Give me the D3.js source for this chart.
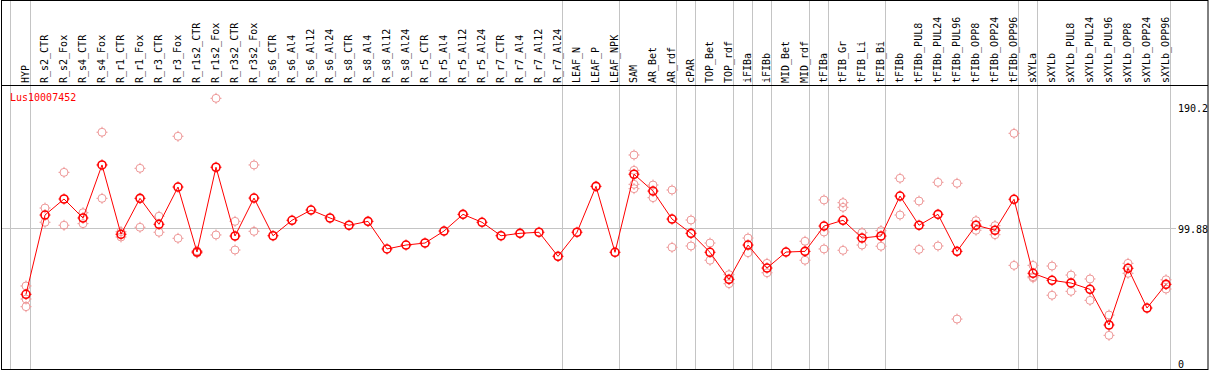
<!DOCTYPE html>
<html>
<head>
<meta charset="utf-8">
<script src="https://cdn.jsdelivr.net/npm/d3@7"></script>
<style>
    body { margin: 0; background: #fff; }
    svg { display: block; }
    text { font-family: "DejaVu Sans Mono", monospace; font-size: 10px; }
</style>
</head>
<body>
<div id="chart"></div>
<script>
// Chart data
const geneName = 'Lus10007452';

const samples = [
    'HYP', 'R_s2_CTR', 'R_s2_Fox', 'R_s4_CTR', 'R_s4_Fox', 'R_r1_CTR', 'R_r1_Fox', 'R_r3_CTR', 'R_r3_Fox',
    'R_r1s2_CTR', 'R_r1s2_Fox', 'R_r3s2_CTR', 'R_r3s2_Fox', 'R_s6_CTR', 'R_s6_Al4', 'R_s6_Al12', 'R_s6_Al24',
    'R_s8_CTR', 'R_s8_Al4', 'R_s8_Al12', 'R_s8_Al24', 'R_r5_CTR', 'R_r5_Al4', 'R_r5_Al12', 'R_r5_Al24',
    'R_r7_CTR', 'R_r7_Al4', 'R_r7_Al12', 'R_r7_Al24', 'LEAF_N', 'LEAF_P', 'LEAF_NPK', 'SAM', 'AR_Bet', 'AR_rdf',
    'cPAR', 'TOP_Bet', 'TOP_rdf', 'iFIBa', 'iFIBb', 'MID_Bet', 'MID_rdf', 'tFIBa', 'tFIB_Gr', 'tFIB_Li', 'tFIB_Bi',
    'tFIBb', 'tFIBb_PUL8', 'tFIBb_PUL24', 'tFIBb_PUL96', 'tFIBb_OPP8', 'tFIBb_OPP24', 'tFIBb_OPP96',
    'sXYLa', 'sXYLb', 'sXYLb_PUL8', 'sXYLb_PUL24', 'sXYLb_PUL96', 'sXYLb_OPP8', 'sXYLb_OPP24', 'sXYLb_OPP96'
];

const meanValues = [
    50.3, 109.2, 121.1, 107.0, 146.4, 94.9, 121.6, 102.3, 130.0,
    81.7, 144.7, 93.6, 121.8, 93.8, 105.3, 112.9, 107.0,
    101.6, 104.5, 84.0, 86.9, 88.4, 97.3, 109.7, 103.8,
    93.8, 95.6, 96.4, 78.5, 96.4, 130.5, 81.5, 139.5, 127.0, 106.2,
    95.6, 81.5, 61.4, 86.9, 69.8, 81.7, 82.2, 101.0, 105.3, 92.1, 93.6,
    123.3, 101.6, 109.7, 82.2, 101.6, 97.9, 120.9,
    65.9, 60.7, 58.7, 54.0, 27.5, 69.6, 40.1, 57.7
];

const replicateValues = [
    [56.5, 46.8, 41.1], [114.4, 103.8], [140.9, 101.6], [110.9, 102.8], [170.7, 121.6], [96.8, 92.9],
    [143.9, 100.1], [108.3, 96.4], [167.7, 91.9], [82.5, 81.0], [195.9, 94.4], [104.5, 83.2], [146.4, 97.1],
    [], [], [], [],
    [], [], [], [], [], [], [], [],
    [], [], [], [], [], [], [],
    [153.8, 142.4, 132.0, 128.8], [131.5, 122.1], [127.8, 85.2],
    [105.5, 86.2], [88.4, 75.6], [64.9, 58.2], [92.1, 81.2], [73.3, 66.3], [], [89.7, 75.6],
    [120.4, 96.6, 84.0], [118.4, 114.9, 83.0], [96.1, 86.9], [97.6, 86.0],
    [136.5, 109.2], [119.6, 83.7], [133.5, 86.2], [132.8, 31.9], [105.0, 97.9], [101.3, 94.6], [169.9, 71.8],
    [71.8, 63.4, 62.6], [71.3, 49.6], [64.6, 52.5], [61.7, 45.8], [34.9, 19.8], [73.3, 65.9], [], [61.1, 54.2]
];

// Tissue groups end after these samples
const groupEnds = ['HYP', 'R_r7_Al24', 'LEAF_NPK', 'AR_rdf', 'cPAR', 'TOP_rdf', 'iFIBa', 'iFIBb',
    'MID_rdf', 'tFIBa', 'tFIB_Bi', 'tFIBb_OPP96', 'sXYLa', 'sXYLb_OPP96'];

const yTickValues = [190.2, 99.88, 0];
const yTickLabels = ['190.2', '99.88', '0'];

// Dimensions
const width = 1209;
const height = 370;
const headerBottom = 85.5;
const plotBottom = 369.5;

const svg = d3.select('#chart')
    .append('svg')
    .attr('width', width)
    .attr('height', height);

// Scales
const x = d3.scalePoint()
    .domain(samples)
    .range([26, 1166]);

const y = d3.scaleLinear()
    .domain([0, 190.2])
    .range([362, 106]);

const red = '#ff0000';
const pink = '#ee9999';
const grey = '#c4c4c4';

// Separator lines between tissue groups
const sepX = [x(samples[0]) - 15.5].concat(groupEnds.map(s => x(s) + 4.5));
svg.append('g')
    .selectAll('line')
    .data(sepX)
    .join('line')
    .attr('x1', d => d)
    .attr('x2', d => d)
    .attr('y1', 0)
    .attr('y2', plotBottom)
    .style('stroke', grey)
    .style('stroke-width', 1);

// Horizontal reference line
const gy = Math.round(y(99.88)) + 0.5;
svg.append('line')
    .attr('x1', 1.5)
    .attr('x2', 1176)
    .attr('y1', gy)
    .attr('y2', gy)
    .style('stroke', grey);

// Frame and header rule
svg.append('rect')
    .attr('x', 1.5)
    .attr('y', 0.5)
    .attr('width', 1206.5)
    .attr('height', plotBottom - 0.5)
    .style('fill', 'none')
    .style('stroke', '#000');

svg.append('line')
    .attr('x1', 1.5)
    .attr('x2', 1208)
    .attr('y1', headerBottom)
    .attr('y2', headerBottom)
    .style('stroke', '#000');

// Sample names (rotated)
svg.append('g')
    .selectAll('text')
    .data(samples)
    .join('text')
    .attr('transform', d => `translate(${x(d) - 0.5},83) rotate(-90)`)
    .attr('dy', '0.3em')
    .style('fill', '#000')
    .text(d => d);

// Y labels on the right
svg.append('g')
    .selectAll('text')
    .data(yTickValues)
    .join('text')
    .attr('x', 1178)
    .attr('y', d => y(d) + 5.5)
    .style('fill', '#000')
    .text((d, i) => yTickLabels[i]);

// Gene name
svg.append('text')
    .attr('x', 10)
    .attr('y', 101)
    .style('fill', red)
    .text(geneName);

// Marker: circle with small ticks
function drawMarker(g, cx, cy, color, sw) {
    const m = g.append('g').attr('transform', `translate(${cx},${cy})`);
    m.append('circle')
        .attr('r', 4)
        .style('fill', 'none')
        .style('stroke', color)
        .style('stroke-width', sw);
    [[0, -1], [0, 1], [-1, 0], [1, 0]].forEach(([dx, dy]) => {
        m.append('line')
            .attr('x1', dx * 3.5).attr('y1', dy * 3.5)
            .attr('x2', dx * 5.5).attr('y2', dy * 5.5)
            .style('stroke', color)
            .style('stroke-width', 1);
    });
}

// Replicate points
const reps = svg.append('g');
samples.forEach((s, i) => {
    replicateValues[i].forEach(v => drawMarker(reps, x(s), y(v), pink, 1));
});

// Mean line
const line = d3.line()
    .x((d, i) => x(samples[i]))
    .y(d => y(d));

svg.append('path')
    .datum(meanValues)
    .attr('d', line)
    .style('fill', 'none')
    .style('stroke', red)
    .style('stroke-width', 1);

// Mean points
const means = svg.append('g');
samples.forEach((s, i) => drawMarker(means, x(s), y(meanValues[i]), red, 1.6));
</script>
</body>
</html>
